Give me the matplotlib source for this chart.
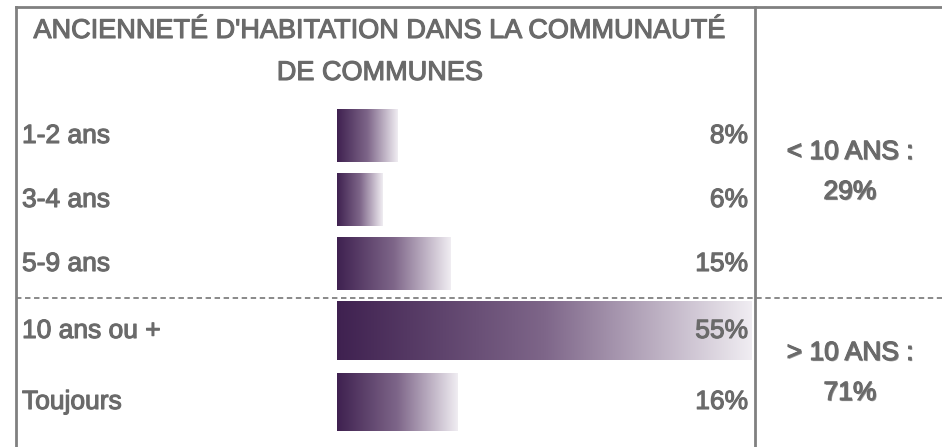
import matplotlib.pyplot as plt
import matplotlib.patheffects as pe
import numpy as np
from matplotlib.colors import LinearSegmentedColormap

# données
categories = ["1-2 ans", "3-4 ans", "5-9 ans", "10 ans ou +", "Toujours"]
valeurs = [8, 6, 15, 55, 16]
groupe_moins = [0, 1, 2]
groupe_plus = [3, 4]
titre = ["ANCIENNETÉ D'HABITATION DANS LA COMMUNAUTÉ", "DE COMMUNES"]

# mise en page (pixels)
W, H = 942, 447
row_y = [136, 200, 264, 331, 402]
row_h = [53, 53, 53, 59, 58]
gris = "#6a6a6a"
trait = "#808080"

plt.rcParams['font.family'] = ['Liberation Sans', 'DejaVu Sans']

fig = plt.figure(figsize=(W / 100, H / 100), dpi=100)
fig.patch.set_facecolor("white")

# barres en dégradé
ax = fig.add_axes([337 / W, 0, 415 / W, 1])
cmap = LinearSegmentedColormap.from_list("violet", ["#3f2150", "#7e6689", "#f0edf2"])
grad = np.linspace(0, 1, 256).reshape(1, -1)
for i, v in enumerate(valeurs):
    y0 = row_y[i] - row_h[i] / 2
    y1 = row_y[i] + row_h[i] / 2
    ax.imshow(grad, extent=(0, v, y1, y0), aspect="auto", cmap=cmap,
              interpolation="bilinear")
ax.set_xlim(0, max(valeurs))
ax.set_ylim(H, 0)
ax.axis("off")

# calque texte et cadre au-dessus des barres
bg = fig.add_axes([0, 0, 1, 1])
bg.set_xlim(0, W)
bg.set_ylim(H, 0)
bg.axis("off")

bg.plot([16, 16], [7, H], color=trait, lw=2)
bg.plot([16, W], [7, 7], color=trait, lw=2)
bg.plot([755, 755], [7, H], color=trait, lw=2)
bg.plot([16, W], [298, 298], color=trait, lw=1.3, ls=(0, (3, 2)))

epais = [pe.withStroke(linewidth=0.8, foreground=gris)]
ombre = [pe.withSimplePatchShadow(offset=(0.8, -0.8), shadow_rgbFace="#333333", alpha=0.5),
         pe.withStroke(linewidth=0.8, foreground=gris)]

# titre
bg.text(380, 31, titre[0], ha="center", va="center", fontsize=19.5,
        color=gris, path_effects=epais)
bg.text(380, 73, titre[1], ha="center", va="center", fontsize=19.5,
        color=gris, path_effects=epais)

# libellés
for i, (c, v) in enumerate(zip(categories, valeurs)):
    bg.text(22, row_y[i], c, ha="left", va="center", fontsize=19, color=gris,
            path_effects=epais)
    bg.text(748, row_y[i], f"{v}%", ha="right", va="center", fontsize=19,
            color=gris, path_effects=epais)

# totaux par groupe
moins = sum(valeurs[i] for i in groupe_moins)
plus = sum(valeurs[i] for i in groupe_plus)
bg.text(850, 152, "< 10 ANS :", ha="center", va="center", fontsize=19,
        color=gris, path_effects=ombre)
bg.text(850, 192, f"{moins}%", ha="center", va="center", fontsize=19,
        color=gris, path_effects=ombre)
bg.text(850, 353, "> 10 ANS :", ha="center", va="center", fontsize=19,
        color=gris, path_effects=ombre)
bg.text(850, 393, f"{plus}%", ha="center", va="center", fontsize=19,
        color=gris, path_effects=ombre)

fig.savefig("out.png", dpi=100)
